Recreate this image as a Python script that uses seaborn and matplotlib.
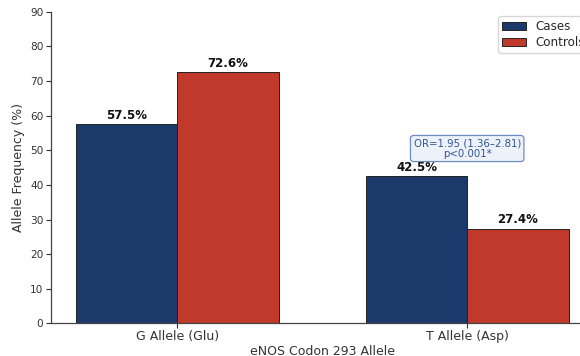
import matplotlib
matplotlib.use("Agg")
import matplotlib.pyplot as plt
import seaborn as sns
import pandas as pd

# Allele frequencies for eNOS codon 293 (Glu298Asp) by group
alleles = ["G Allele (Glu)", "T Allele (Asp)"]
groups = ["Cases", "Controls"]
cases_pct = [57.5, 42.5]
controls_pct = [72.6, 27.4]
palette = {"Cases": "#1b3a6b", "Controls": "#c0392b"}
or_text = "OR=1.95 (1.36\u20132.81)\np<0.001*"

df = pd.DataFrame({
    "Allele": alleles * 2,
    "Group": [groups[0]] * len(alleles) + [groups[1]] * len(alleles),
    "Frequency": cases_pct + controls_pct,
})

sns.set_style("ticks")
plt.rcParams["font.family"] = ["DejaVu Sans"]

fig = plt.figure(figsize=(5.8, 3.56), dpi=100)
ax = fig.add_axes([0.088, 0.0913, 0.935, 0.876])

sns.barplot(data=df, x="Allele", y="Frequency", hue="Group", order=alleles,
            hue_order=groups, palette=palette, width=0.7, edgecolor="#222222",
            linewidth=0.7, saturation=1, errorbar=None, ax=ax)

for container in ax.containers:
    for bar in container:
        h = bar.get_height()
        ax.text(bar.get_x() + bar.get_width() / 2, h + 0.6, f"{h:.1f}%",
                ha="center", va="bottom", fontsize=8.5, fontweight="bold",
                color="#111111")

ax.text(1, 50.5, or_text, ha="center", va="center", fontsize=7.3,
        color="#2f5592", linespacing=1.0,
        bbox=dict(boxstyle="round,pad=0.3", facecolor="#edf2fa",
                  edgecolor="#6d8cc0", linewidth=0.9))

ax.set_xlim(-0.435, 1.435)
ax.set_ylim(0, 90)
ax.set_yticks(range(0, 91, 10))
ax.set_xlabel("eNOS Codon 293 Allele", fontsize=9, color="#333333", labelpad=1)
ax.set_ylabel("Allele Frequency (%)", fontsize=9, color="#333333", labelpad=3.5)
ax.tick_params(axis="both", colors="#333333", length=3.5, width=0.8)
ax.tick_params(axis="x", labelsize=9, pad=1.5)
ax.tick_params(axis="y", labelsize=7.6, pad=2)
for side in ["top", "right"]:
    ax.spines[side].set_visible(False)
for side in ["left", "bottom"]:
    ax.spines[side].set_color("#444444")
    ax.spines[side].set_linewidth(0.9)

leg = ax.legend(title=None, loc="upper right", fontsize=8.6, frameon=True,
                fancybox=True, edgecolor="#cccccc", borderaxespad=0.4,
                borderpad=0.3, labelspacing=0.25, handlelength=2.0,
                handletextpad=0.8)

fig.savefig("out.png", dpi=100)
